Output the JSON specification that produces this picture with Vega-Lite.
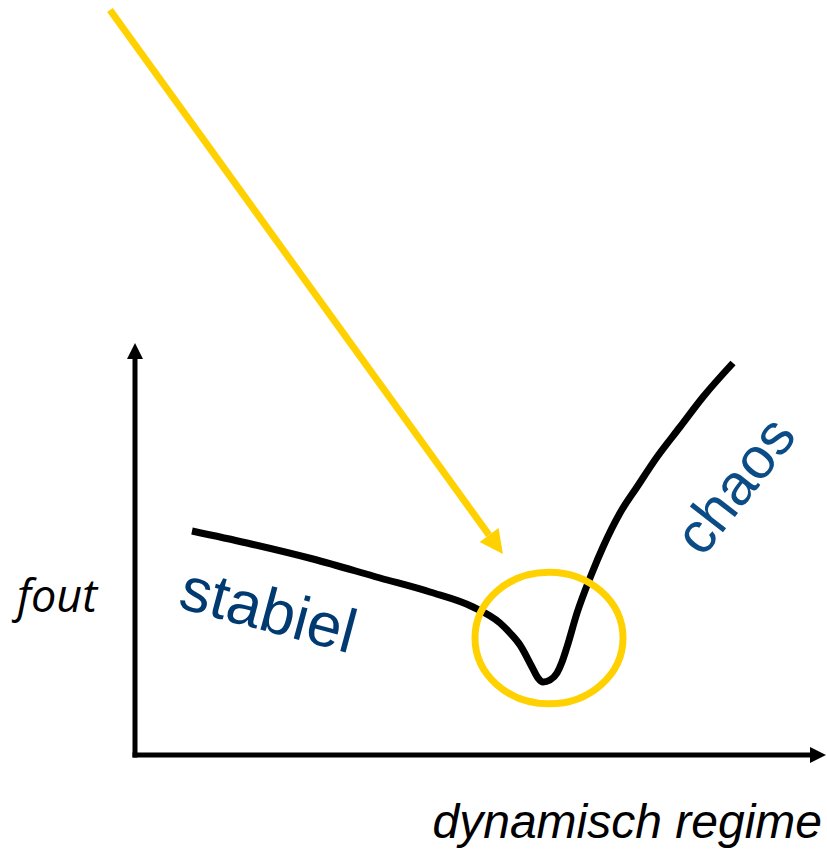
{
  "$schema": "https://vega.github.io/schema/vega-lite/v6.json",
  "width": 827,
  "height": 851,
  "padding": 0,
  "autosize": {"type": "fit", "contains": "padding"},
  "background": "white",
  "config": {"view": {"stroke": null}},
  "encoding": {
    "x": {"field": "x", "type": "quantitative", "scale": {"domain": [-1.35, 6.92], "nice": false, "zero": false}, "axis": null},
    "y": {"field": "y", "type": "quantitative", "scale": {"domain": [-0.96, 7.55], "nice": false, "zero": false}, "axis": null}
  },
  "layer": [
    {
      "data": {"values": [
        {"x": 0, "y": 0, "x2": 0, "y2": 3.94},
        {"x": 0, "y": 0, "x2": 6.77, "y2": 0}
      ]},
      "mark": {"type": "rule", "color": "black", "strokeWidth": 5, "strokeCap": "square"},
      "encoding": {"x2": {"field": "x2"}, "y2": {"field": "y2"}}
    },
    {
      "data": {"values": [{"x": 0, "y": 4.04}]},
      "mark": {"type": "point", "shape": "M0,-1L1,1L-1,1Z", "filled": true, "color": "black", "opacity": 1, "size": 256, "angle": 0}
    },
    {
      "data": {"values": [{"x": 6.83, "y": 0}]},
      "mark": {"type": "point", "shape": "M0,-1L1,1L-1,1Z", "filled": true, "color": "black", "opacity": 1, "size": 256, "angle": 90}
    },
    {
      "data": {"values": [
        {"x": 0.57, "y": 2.24}, {"x": 1.12, "y": 2.12}, {"x": 1.78, "y": 1.96},
        {"x": 2.45, "y": 1.77}, {"x": 2.95, "y": 1.63}, {"x": 3.38, "y": 1.48},
        {"x": 3.65, "y": 1.32}, {"x": 3.75, "y": 1.22}, {"x": 3.85, "y": 1.10},
        {"x": 3.97, "y": 0.88}, {"x": 4.03, "y": 0.77}, {"x": 4.08, "y": 0.73},
        {"x": 4.15, "y": 0.75}, {"x": 4.22, "y": 0.82}, {"x": 4.27, "y": 0.93},
        {"x": 4.32, "y": 1.08}, {"x": 4.42, "y": 1.42}, {"x": 4.57, "y": 1.82},
        {"x": 4.68, "y": 2.08}, {"x": 4.85, "y": 2.42}, {"x": 5.02, "y": 2.68},
        {"x": 5.22, "y": 2.98}, {"x": 5.45, "y": 3.28}, {"x": 5.68, "y": 3.58},
        {"x": 5.98, "y": 3.92}
      ]},
      "mark": {"type": "line", "color": "black", "strokeWidth": 7, "interpolate": "monotone", "strokeCap": "butt"}
    },
    {
      "data": {"values": [{"x": 4.14, "y": 1.17}]},
      "mark": {"type": "point", "shape": "M-1,0C-1,-0.4916,-0.5523,-0.89,0,-0.89C0.5523,-0.89,1,-0.4916,1,0C1,0.4916,0.5523,0.89,0,0.89C-0.5523,0.89,-1,0.4916,-1,0Z", "filled": false, "stroke": "#FFD100", "strokeWidth": 7, "opacity": 1, "size": 21904}
    },
    {
      "data": {"values": [{"x": -0.25, "y": 7.45, "x2": 3.54, "y2": 2.2}]},
      "mark": {"type": "rule", "color": "#FFD100", "strokeWidth": 7, "strokeCap": "butt"},
      "encoding": {"x2": {"field": "x2"}, "y2": {"field": "y2"}}
    },
    {
      "data": {"values": [{"x": 3.61, "y": 2.105}]},
      "mark": {"type": "point", "shape": "M0,-1L1,1L-1,1Z", "filled": true, "color": "#FFD100", "opacity": 1, "size": 550, "angle": 144}
    },
    {
      "data": {"values": [{"x": -0.78, "y": 1.57, "label": "fout"}]},
      "mark": {"type": "text", "font": "Open Sans", "fontStyle": "italic", "fontSize": 45, "color": "black", "align": "center", "baseline": "middle"},
      "encoding": {"text": {"field": "label"}}
    },
    {
      "data": {"values": [{"x": 6.87, "y": -0.83, "label": "dynamisch regime"}]},
      "mark": {"type": "text", "font": "Liberation Sans", "fontStyle": "italic", "fontSize": 48, "color": "black", "align": "right", "baseline": "alphabetic"},
      "encoding": {"text": {"field": "label"}}
    },
    {
      "data": {"values": [{"x": 1.33, "y": 1.43, "label": "stabiel"}]},
      "mark": {"type": "text", "font": "Liberation Sans", "fontSize": 62, "color": "#003A70", "align": "center", "baseline": "middle", "angle": 15},
      "encoding": {"text": {"field": "label"}}
    },
    {
      "data": {"values": [{"x": 6.02, "y": 2.68, "label": "chaos"}]},
      "mark": {"type": "text", "font": "Liberation Sans", "fontSize": 58, "color": "#0B4C86", "align": "center", "baseline": "middle", "angle": -52},
      "encoding": {"text": {"field": "label"}}
    }
  ]
}
